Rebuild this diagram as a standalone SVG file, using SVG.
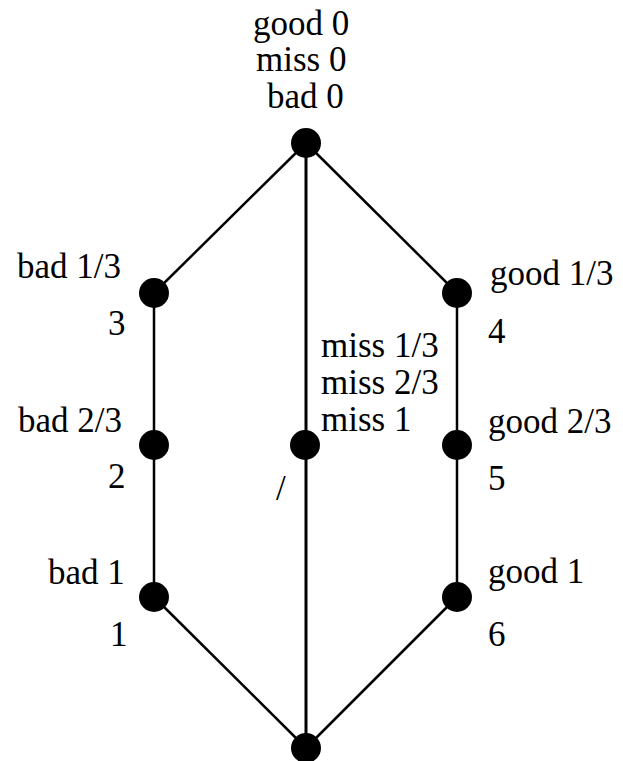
<svg xmlns="http://www.w3.org/2000/svg" width="623" height="761" viewBox="0 0 623 761">
  <style>
    .lbl { font-family: "Liberation Serif", "Times New Roman", serif; font-size: 35px; fill: #000; }
    .edge { stroke: #000; stroke-width: 2.5; fill: none; }
    .edge.mid { stroke-width: 3; }
    .dot { fill: #000; }
  </style>
  <rect width="623" height="761" fill="#fff"/>

  <!-- connectors -->
  <g id="edges">
    <line class="edge" x1="306" y1="143" x2="154" y2="293"/>
    <line class="edge" x1="306" y1="143" x2="457" y2="293"/>
    <line class="edge mid" x1="306" y1="143" x2="306" y2="748"/>
    <line class="edge" x1="154" y1="293" x2="154" y2="597"/>
    <line class="edge" x1="457" y1="293" x2="457" y2="597"/>
    <line class="edge" x1="154" y1="597" x2="306" y2="748"/>
    <line class="edge" x1="457" y1="597" x2="306" y2="748"/>
  </g>

  <!-- nodes -->
  <g id="n-top">
    <circle class="dot" cx="306" cy="143" r="15"/>
    <text class="lbl" x="253" y="35">good 0</text>
    <text class="lbl" x="256" y="71">miss 0</text>
    <text class="lbl" x="267" y="108">bad 0</text>
  </g>
  <g id="n-bad13">
    <circle class="dot" cx="154" cy="293" r="15"/>
    <text class="lbl" x="17" y="278">bad 1/3</text>
    <text class="lbl" x="108" y="335">3</text>
  </g>
  <g id="n-bad23">
    <circle class="dot" cx="154" cy="445" r="15"/>
    <text class="lbl" x="18" y="432">bad 2/3</text>
    <text class="lbl" x="108" y="488">2</text>
  </g>
  <g id="n-bad1">
    <circle class="dot" cx="154" cy="597" r="15"/>
    <text class="lbl" x="48" y="584">bad 1</text>
    <text class="lbl" x="110" y="646">1</text>
  </g>
  <g id="n-good13">
    <circle class="dot" cx="457" cy="293" r="15"/>
    <text class="lbl" x="490" y="285">good 1/3</text>
    <text class="lbl" x="488" y="343">4</text>
  </g>
  <g id="n-good23">
    <circle class="dot" cx="457" cy="445" r="15"/>
    <text class="lbl" x="488" y="433">good 2/3</text>
    <text class="lbl" x="488" y="490">5</text>
  </g>
  <g id="n-good1">
    <circle class="dot" cx="457" cy="597" r="15"/>
    <text class="lbl" x="488" y="583">good 1</text>
    <text class="lbl" x="488" y="646">6</text>
  </g>
  <g id="n-miss">
    <circle class="dot" cx="305" cy="445" r="15"/>
    <text class="lbl" x="321" y="357">miss 1/3</text>
    <text class="lbl" x="321" y="394">miss 2/3</text>
    <text class="lbl" x="321" y="431">miss 1</text>
    <text class="lbl" x="276" y="500">/</text>
  </g>
  <g id="n-bottom">
    <circle class="dot" cx="306" cy="748" r="15"/>
  </g>
</svg>
